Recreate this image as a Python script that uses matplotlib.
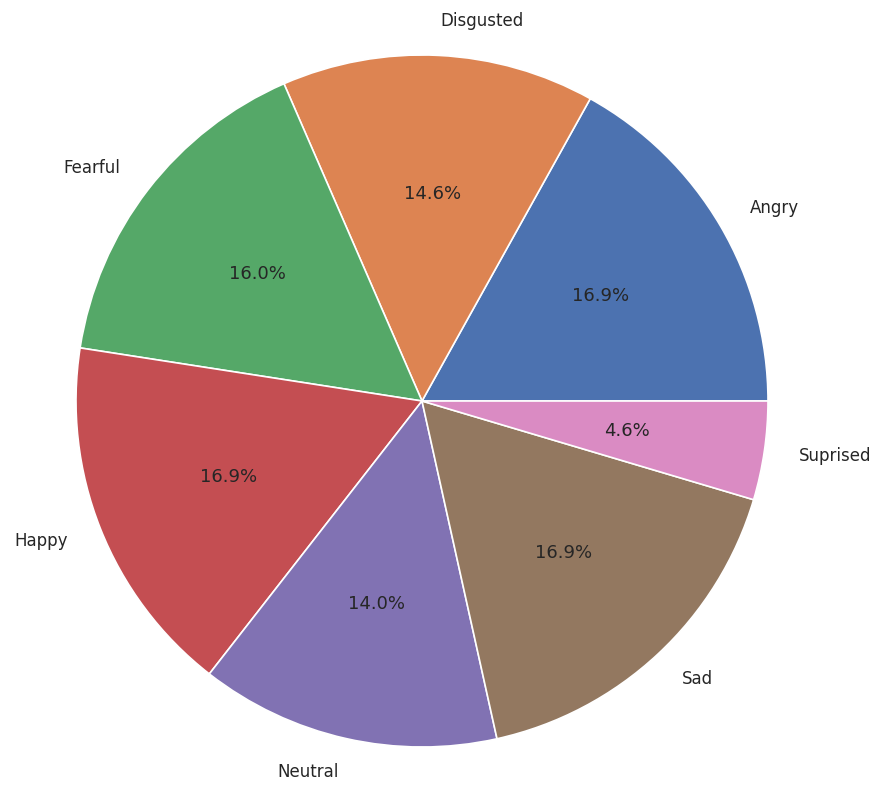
import matplotlib
matplotlib.use("Agg")
import matplotlib.pyplot as plt
import seaborn as sns

sns.set_theme()

# emotion class shares (percent)
labels = ["Angry", "Disgusted", "Fearful", "Happy", "Neutral", "Sad", "Suprised"]
sizes = [16.9, 14.6, 16.0, 16.9, 14.0, 16.9, 4.6]

fig = plt.figure(figsize=(8.81, 7.85), dpi=100)
# pie centre ~ (422, 384) px from bottom-left, radius ~346 px
r = 346
ax = fig.add_axes([(422 - r) / 881, (384 - r) / 785, 2 * r / 881, 2 * r / 785])
wedges, texts, autotexts = ax.pie(sizes, labels=labels, autopct="%1.1f%%",
                                  wedgeprops={"edgecolor": "white", "linewidth": 1.2})
for t in texts:
    t.set_fontsize(12)
for t in autotexts:
    t.set_fontsize(13)
ax.set_xlim(-1, 1)
ax.set_ylim(-1, 1)
ax.set_aspect("equal")

fig.savefig("out.png", dpi=100)
